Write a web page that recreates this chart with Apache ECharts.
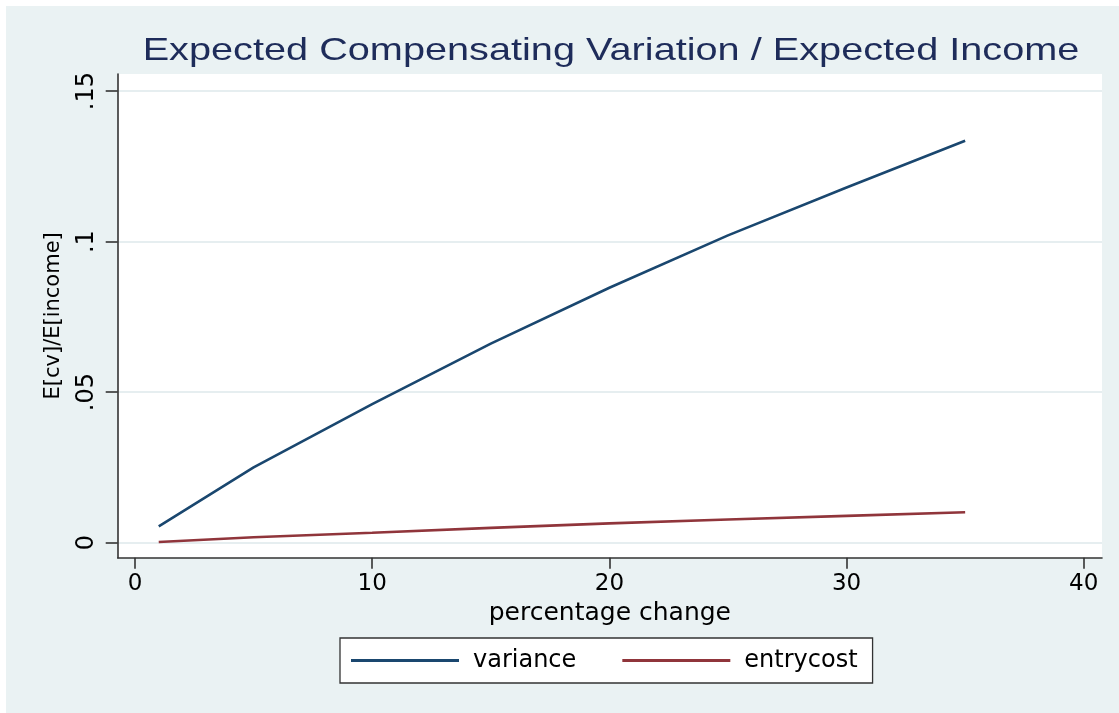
<!DOCTYPE html>
<html>
<head>
<meta charset="utf-8">
<title>Expected Compensating Variation / Expected Income</title>
<script src="https://cdn.jsdelivr.net/npm/echarts@6/dist/echarts.min.js"></script>
<style>
  html, body { margin: 0; padding: 0; background: #ffffff; }
  #chart { position: absolute; left: 6px; top: 6px; width: 1113px; height: 707px; }
</style>
</head>
<body>
<div id="chart"></div>
<script>
// Percentage change in the shock (x values)
const pctChange = [1, 5, 10, 15, 20, 25, 30, 35];
// E[cv]/E[income] for each scenario
const varianceVals  = [0.0054, 0.0250, 0.0460, 0.0661, 0.0847, 0.1021, 0.1180, 0.1335];
const entrycostVals = [0.0002, 0.0018, 0.0033, 0.0049, 0.0064, 0.0077, 0.0089, 0.0101];
const seriesNames = ['variance', 'entrycost'];

// Axis ticks and their printed labels
const xTicks = [0, 10, 20, 30, 40];
const yTicks = [0, 0.05, 0.1, 0.15];
const yTickLabels = ['0', '.05', '.1', '.15'];

const titleText = 'Expected Compensating Variation / Expected Income';
const xTitle = 'percentage change';
const yTitle = 'E[cv]/E[income]';

const FONT = 'DejaVu Sans';
const AXIS_COLOR = '#333333';
const GRID_COLOR = '#e6eef0';

function pairs(xs, ys) { return xs.map((x, i) => [x, ys[i]]); }

const chart = echarts.init(document.getElementById('chart'), null, { renderer: 'canvas' });

chart.setOption({
  backgroundColor: '#eaf2f3',
  animation: false,
  graphic: [{
    type: 'text',
    x: 605,
    y: 45,
    scaleX: 1.24,
    style: {
      text: titleText,
      font: '32px "Liberation Sans"',
      fill: '#1e2c5a',
      align: 'center',
      verticalAlign: 'middle'
    }
  }],
  grid: {
    left: 111.7, right: 17, top: 68, bottom: 155.3,
    show: true, backgroundColor: '#ffffff', borderWidth: 0,
    containLabel: false
  },
  legend: {
    left: 334, top: 632,
    orient: 'horizontal',
    data: seriesNames,
    icon: 'rect',
    itemWidth: 108,
    itemHeight: 3,
    itemGap: 46,
    padding: [10, 15, 10, 11],
    backgroundColor: '#ffffff',
    borderColor: '#333333',
    borderWidth: 1.3,
    borderRadius: 0,
    textStyle: { fontFamily: FONT, fontSize: 24, color: '#000000', lineHeight: 25, padding: [0, 0, 0, 9] }
  },
  xAxis: {
    type: 'value',
    min: -0.73, max: 40.77,
    name: xTitle,
    nameLocation: 'middle',
    nameGap: 40,
    nameTextStyle: { fontFamily: FONT, fontSize: 25, color: '#000000' },
    axisLine: { show: true, onZero: false, lineStyle: { color: AXIS_COLOR, width: 1.6 } },
    axisTick: { show: true, length: 11, customValues: xTicks, lineStyle: { color: AXIS_COLOR, width: 1.6 } },
    axisLabel: {
      customValues: xTicks,
      margin: 15,
      fontFamily: FONT, fontSize: 23, color: '#000000',
      formatter: v => String(v)
    },
    splitLine: { show: false }
  },
  yAxis: {
    type: 'value',
    min: -0.005, max: 0.1557,
    name: yTitle,
    nameLocation: 'middle',
    nameGap: 54,
    nameRotate: 90,
    nameTextStyle: { fontFamily: FONT, fontSize: 21, color: '#000000' },
    axisLine: { show: true, onZero: false, lineStyle: { color: AXIS_COLOR, width: 1.6 } },
    axisTick: { show: true, length: 12, customValues: yTicks, lineStyle: { color: AXIS_COLOR, width: 1.6 } },
    axisLabel: {
      customValues: yTicks,
      rotate: 90,
      margin: 19,
      fontFamily: FONT, fontSize: 24, color: '#000000',
      formatter: v => {
        const i = yTicks.findIndex(t => Math.abs(t - v) < 1e-9);
        return i >= 0 ? yTickLabels[i] : '';
      }
    },
    splitLine: { show: true, lineStyle: { color: GRID_COLOR, width: 2 } }
  },
  series: [
    {
      name: seriesNames[0],
      type: 'line',
      data: pairs(pctChange, varianceVals),
      symbol: 'none',
      lineStyle: { color: '#1a476f', width: 2.6 },
      itemStyle: { color: '#1a476f' }
    },
    {
      name: seriesNames[1],
      type: 'line',
      data: pairs(pctChange, entrycostVals),
      symbol: 'none',
      lineStyle: { color: '#90353b', width: 2.6 },
      itemStyle: { color: '#90353b' }
    }
  ]
});
</script>
</body>
</html>
